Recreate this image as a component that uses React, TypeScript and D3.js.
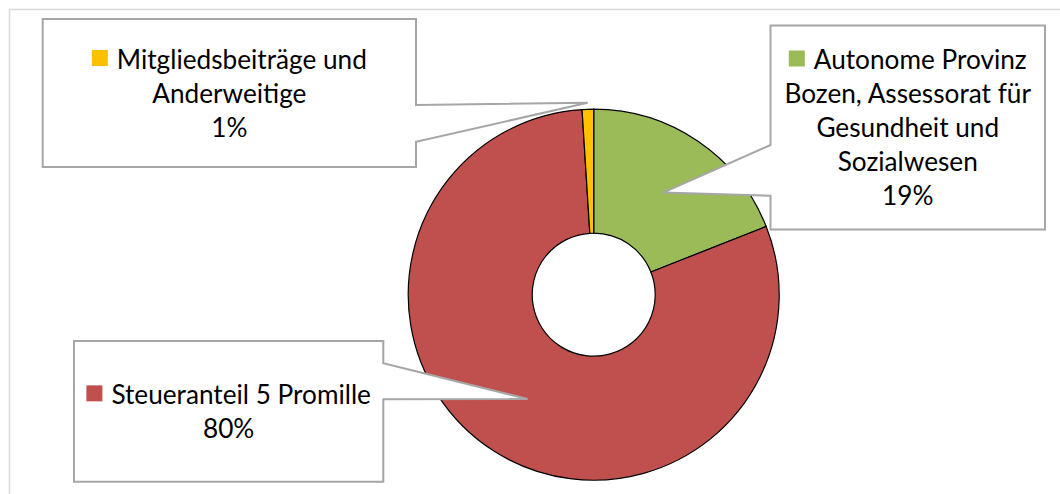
import React, { useEffect, useRef } from "react";
import * as d3 from "d3";

// ---- data ----
const categories = [
  "Autonome Provinz Bozen, Assessorat für Gesundheit und Sozialwesen",
  "Steueranteil 5 Promille",
  "Mitgliedsbeiträge und Anderweitige",
];
const values = [19, 80, 1];
const colors = ["#9BBB59", "#C0504D", "#FFC000"];
// how each category name is wrapped in its callout (word counts per line)
const wrapWords = [[2, 3, 2, 1], [3], [2, 1]];

// ---- layout (callout boxes) ----
const W = 1060;
const H = 494;
const cx = 593.7;
const cy = 294.7;
const outerR = 185.5;
const innerR = 61.5;
const FONT = "Lato, 'Open Sans', sans-serif";
const FONT_SIZE = 26.2;
const LINE_H = 34;

type Box = { x0: number; y0: number; x1: number; y1: number; side: "left" | "right"; n1: number; n2: number; tipR: number };
const boxes: Box[] = [
  { x0: 770.5, y0: 25.5, x1: 1045, y1: 229.5, side: "left", n1: 145, n2: 195.7, tipR: (innerR + outerR) / 2 },
  { x0: 74, y0: 341, x1: 383.3, y1: 481.7, side: "right", n1: 363.3, n2: 399.3, tipR: (innerR + outerR) / 2 },
  { x0: 42.7, y0: 19, x1: 416, y1: 167, side: "right", n1: 105, n2: 141.7, tipR: outerR * 1.035 },
];

export default function App() {
  const ref = useRef<SVGSVGElement>(null);

  useEffect(() => {
    const svg = d3.select(ref.current!);
    svg.selectAll("*").remove();

    // outer chart frame
    svg
      .append("path")
      .attr("d", `M9.5,${H} V9.5 H${W}`)
      .attr("fill", "none")
      .attr("stroke", "#D9D9D9")
      .attr("stroke-width", 1.5);

    const pie = d3.pie<number>().sort(null).value((d) => d);
    const arcs = pie(values);
    const arc = d3.arc<d3.PieArcDatum<number>>().innerRadius(innerR).outerRadius(outerR);

    const g = svg.append("g").attr("transform", `translate(${cx},${cy})`);
    g.selectAll("path.slice")
      .data(arcs)
      .enter()
      .append("path")
      .attr("class", "slice")
      .attr("d", arc as any)
      .attr("fill", (_, i) => colors[i])
      .attr("stroke", "#000")
      .attr("stroke-width", 1.2)
      .attr("stroke-linejoin", "round");

    const total = d3.sum(values);
    const fmt = d3.format(".0%");

    arcs.forEach((a, i) => {
      const b = boxes[i];
      const mid = (a.startAngle + a.endAngle) / 2;
      const tx = cx + b.tipR * Math.sin(mid);
      const ty = cy - b.tipR * Math.cos(mid);
      let d: string;
      if (b.side === "right") {
        d = `M${b.x0},${b.y0} H${b.x1} V${b.n1} L${tx},${ty} L${b.x1},${b.n2} V${b.y1} H${b.x0} Z`;
      } else {
        d = `M${b.x0},${b.y0} H${b.x1} V${b.y1} H${b.x0} V${b.n2} L${tx},${ty} L${b.x0},${b.n1} Z`;
      }
      svg
        .append("path")
        .attr("d", d)
        .attr("fill", "#fff")
        .attr("stroke", "#A6A6A6")
        .attr("stroke-width", 2)
        .attr("stroke-linejoin", "miter");

      // text lines
      const words = categories[i].split(" ");
      const lines: string[] = [];
      let k = 0;
      wrapWords[i].forEach((n) => {
        lines.push(words.slice(k, k + n).join(" "));
        k += n;
      });
      lines.push(fmt(values[i] / total));

      const centerX = (b.x0 + b.x1) / 2;
      const centerY = (b.y0 + b.y1) / 2;
      const firstBase = centerY - ((lines.length - 1) * LINE_H) / 2 + 9.5;

      lines.forEach((ln, j) => {
        const base = firstBase + j * LINE_H;
        const t = svg
          .append("text")
          .attr("x", centerX)
          .attr("y", base)
          .attr("font-family", FONT)
          .attr("font-size", FONT_SIZE)
          .attr("fill", "#000")
          .attr("text-anchor", "middle")
          .text(ln);
        if (j === 0) {
          const tw = (t.node() as SVGTextElement).getComputedTextLength();
          const sq = 16;
          const gap = 9;
          const totalW = sq + gap + tw;
          const left = centerX - totalW / 2;
          svg
            .append("rect")
            .attr("x", left)
            .attr("y", base - 18.5)
            .attr("width", sq)
            .attr("height", sq)
            .attr("fill", colors[i]);
          t.attr("text-anchor", "start").attr("x", left + sq + gap);
        }
      });
    });
  }, []);

  return (
    <svg
      ref={ref}
      width={W}
      height={H}
      style={{ position: "absolute", left: 0, top: 0, background: "#fff" }}
    />
  );
}
